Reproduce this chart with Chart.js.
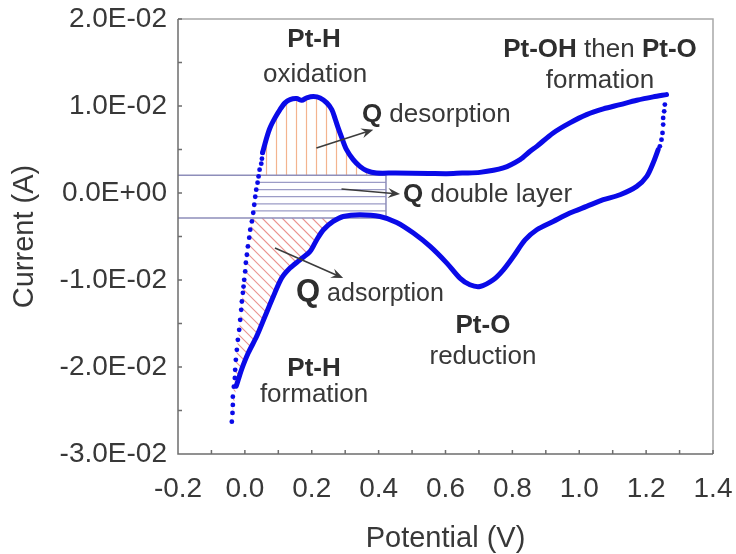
<!DOCTYPE html>
<html>
<head>
<meta charset="utf-8">
<title>Pt cyclic voltammogram</title>
<script src="https://cdn.jsdelivr.net/npm/chart.js@4.4.1/dist/chart.umd.min.js"></script>
<style>
  html, body { margin: 0; padding: 0; background: #fff; }
  #cv { display: block; }
</style>
</head>
<body>
<canvas id="cv" width="736" height="554"></canvas>
<script>
// Potential (V) / current (A) readings of one CV cycle on Pt.
// Anodic sweep start: the fast, sparsely sampled rise from the H2 region
const anodicStartV = [-0.039, -0.037, -0.036, -0.036, -0.033, -0.030, -0.029, -0.027, -0.024, -0.021,
  -0.017, -0.014, -0.011, -0.009, -0.006, -0.004, -0.002, 0.001, 0.003, 0.006,
  0.009, 0.013, 0.016, 0.021, 0.025, 0.028, 0.031, 0.034, 0.038, 0.041,
  0.044, 0.049, 0.051, 0.053];
const anodicStartI = [-0.02628, -0.02528, -0.02436, -0.02341, -0.02226, -0.02125, -0.02033, -0.01918, -0.01803, -0.01688,
  -0.01573, -0.01458, -0.01343, -0.01247, -0.01147, -0.01075, -0.00998, -0.00902, -0.00802, -0.0071,
  -0.00614, -0.00514, -0.00422, -0.00327, -0.00227, -0.00135, -0.00043, 0.00038, 0.00119, 0.00191,
  0.00268, 0.00337, 0.00395, 0.00464];

// Anodic sweep: H desorption peak, double layer, Pt-OH / Pt-O growth
const anodicV = [0.053, 0.065, 0.075, 0.090, 0.105, 0.120, 0.135, 0.155, 0.170, 0.185,
  0.205, 0.225, 0.245, 0.260, 0.269, 0.279, 0.290, 0.304, 0.324, 0.344,
  0.364, 0.394, 0.45, 0.55, 0.604, 0.65, 0.703, 0.773, 0.823, 0.853,
  0.873, 0.922, 0.972, 1.022, 1.072, 1.122, 1.172, 1.221, 1.261];
const anodicI = [0.00464, 0.00633, 0.00748, 0.00863, 0.00959, 0.01036, 0.01074, 0.01085, 0.01066, 0.01093,
  0.01108, 0.01093, 0.01036, 0.00959, 0.00863, 0.00748, 0.00633, 0.00498, 0.00383, 0.00306,
  0.00257, 0.0023, 0.0023, 0.00225, 0.00222, 0.0023, 0.00237, 0.00288, 0.00383, 0.00479,
  0.00536, 0.0069, 0.00806, 0.00901, 0.00967, 0.01016, 0.01066, 0.01105, 0.01131];

// Sweep reversal at the upper vertex (sparse points)
const vertexV = [1.256, 1.254, 1.251, 1.251, 1.249, 1.246, 1.241];
const vertexI = [0.01016, 0.00939, 0.00863, 0.00786, 0.0069, 0.00613, 0.00536];

// Cathodic sweep: Pt-O reduction, double layer, H adsorption
const cathodicV = [1.236, 1.221, 1.202, 1.172, 1.122, 1.072, 1.022, 0.972, 0.922, 0.873,
  0.838, 0.803, 0.773, 0.743, 0.703, 0.673, 0.643, 0.604, 0.554, 0.504,
  0.454, 0.404, 0.344, 0.294, 0.264, 0.235, 0.215, 0.195, 0.165, 0.135,
  0.110, 0.085, 0.060, 0.035, 0.010, -0.010, -0.020, -0.026];
const cathodicI = [0.00498, 0.00345, 0.00191, 0.00076, -0.0002, -0.00077, -0.00154, -0.0023, -0.00327, -0.00422,
  -0.0054, -0.0073, -0.00883, -0.00998, -0.01075, -0.01055, -0.00978, -0.00806, -0.00614, -0.0046,
  -0.00338, -0.0027, -0.0025, -0.0027, -0.00327, -0.00422, -0.00537, -0.00672, -0.00768, -0.00863,
  -0.00978, -0.0119, -0.0142, -0.0165, -0.0184, -0.0203, -0.0215, -0.0222];

// Double layer band used to split the hydrogen charge
const dlTop = 0.00203;
const dlBottom = -0.00288;
const dlRight = 0.422;

// Axis ranges
const xMin = -0.2, xMax = 1.4, xStep = 0.1;
const yMin = -0.03, yMax = 0.02, yStep = 0.005;

const FONT = '"Liberation Sans", Arial, Helvetica, sans-serif';
const TEXT = '#383838';
const BLUE = '#0a0ae8';

const pts = (xs, ys) => xs.map((v, i) => ({ x: v, y: ys[i] }));

// Labels placed in data units: [parts, V, I, align]; parts are [text, bold, size]
const notes = [
  [[['Pt-H', true, 26]], 0.207, 0.0168, 'center'],
  [[['oxidation', false, 26]], 0.21, 0.0128, 'center'],
  [[['Pt-OH', true, 26], [' then ', false, 26], ['Pt-O', true, 26]], 1.062, 0.01568, 'center'],
  [[['formation', false, 26]], 1.062, 0.01212, 'center'],
  [[['Q', true, 26], [' desorption', false, 26]], 0.350, 0.00819, 'left'],
  [[['Q', true, 26], [' double layer', false, 26]], 0.473, -0.001, 'left'],
  [[['Q', true, 31], [' adsorption', false, 25]], 0.153, -0.01247, 'left'],
  [[['Pt-H', true, 26]], 0.207, -0.02107, 'center'],
  [[['formation', false, 26]], 0.207, -0.02398, 'center'],
  [[['Pt-O', true, 26]], 0.712, -0.01608, 'center'],
  [[['reduction', false, 26]], 0.712, -0.01964, 'center']
];

// Arrows from a hatched area to its charge label: [V1, I1, V2, I2]
const arrows = [
  [0.214, 0.00518, 0.384, 0.00728],
  [0.289, 0.00046, 0.464, -0.00012],
  [0.090, -0.00633, 0.294, -0.00978]
];

function sci(v) {
  const [m, e] = Number(v).toExponential(1).split('e');
  const n = Math.abs(parseInt(e, 10));
  return m + 'E' + (e[0] === '-' ? '-' : '+') + String(n).padStart(2, '0');
}

function fixed1(v) {
  return (Math.round(v * 10) / 10 + 0).toFixed(1);
}

function drawRich(ctx, parts, x, y, align) {
  const widths = parts.map(([t, b, s]) => {
    ctx.font = (b ? 'bold ' : '') + s + 'px ' + FONT;
    return ctx.measureText(t).width;
  });
  const total = widths.reduce((a, w) => a + w, 0);
  let cx = align === 'center' ? x - total / 2 : x;
  ctx.textAlign = 'left';
  ctx.textBaseline = 'alphabetic';
  parts.forEach(([t, b, s], i) => {
    ctx.font = (b ? 'bold ' : '') + s + 'px ' + FONT;
    ctx.fillStyle = b ? '#2e2e2e' : TEXT;
    ctx.fillText(t, cx, y);
    cx += widths[i];
  });
}

function drawArrow(ctx, x1, y1, x2, y2) {
  const a = Math.atan2(y2 - y1, x2 - x1);
  const c = Math.cos(a), s = Math.sin(a);
  const L = 12, W = 5;
  ctx.beginPath();
  ctx.moveTo(x1, y1);
  ctx.lineTo(x2 - 7 * c, y2 - 7 * s);
  ctx.stroke();
  ctx.beginPath();
  ctx.moveTo(x2, y2);
  ctx.lineTo(x2 - L * c + W * s, y2 - L * s - W * c);
  ctx.lineTo(x2 - 0.65 * L * c, y2 - 0.65 * L * s);
  ctx.lineTo(x2 - L * c - W * s, y2 - L * s + W * c);
  ctx.closePath();
  ctx.fill();
}

// Hatching of the three charge areas, clipped to the inside of the CV loop
const hatch = {
  id: 'hatch',
  beforeDatasetsDraw(chart) {
    const { ctx, chartArea: a, scales: { x, y } } = chart;
    const loop = [
      ...pts(anodicStartV, anodicStartI), ...pts(anodicV, anodicI),
      ...pts(vertexV, vertexI), ...pts(cathodicV, cathodicI)
    ].map(p => ({ x: x.getPixelForValue(p.x), y: y.getPixelForValue(p.y) }));
    const xr = x.getPixelForValue(dlRight);
    const yt = y.getPixelForValue(dlTop);
    const yb = y.getPixelForValue(dlBottom);

    const clipped = (rx, ry, rw, rh, color, draw) => {
      ctx.save();
      ctx.beginPath();
      loop.forEach((p, i) => (i ? ctx.lineTo(p.x, p.y) : ctx.moveTo(p.x, p.y)));
      ctx.closePath();
      ctx.clip();
      ctx.beginPath();
      ctx.rect(rx, ry, rw, rh);
      ctx.clip();
      ctx.strokeStyle = color;
      ctx.lineWidth = 1.2;
      ctx.beginPath();
      draw();
      ctx.stroke();
      ctx.restore();
    };

    // H desorption: vertical lines
    clipped(a.left, a.top, xr - a.left, yt - a.top, '#f3b48f', () => {
      for (let px = a.left + 8.5; px < xr; px += 10) {
        ctx.moveTo(px, a.top);
        ctx.lineTo(px, yt);
      }
    });
    // double layer: horizontal lines
    clipped(a.left, yt, xr - a.left, yb - yt, '#9c9cc6', () => {
      for (let k = 1; k <= 5; k++) {
        const py = yt + (yb - yt) * k / 6;
        ctx.moveTo(a.left, py);
        ctx.lineTo(xr, py);
      }
    });
    // H adsorption: diagonal lines
    clipped(a.left, yb, xr - a.left, a.bottom - yb, '#ea9490', () => {
      const h = a.bottom - yb;
      for (let px = a.left - h; px < xr; px += 10) {
        ctx.moveTo(px, yb);
        ctx.lineTo(px + h, yb + h);
      }
    });
  }
};

// Plot frame with short inward tick marks
const frame = {
  id: 'frame',
  afterDatasetsDraw(chart) {
    const { ctx, chartArea: a, scales: { x, y } } = chart;
    ctx.save();
    ctx.lineWidth = 1.5;
    ctx.strokeStyle = '#a8a8a8';
    ctx.beginPath();
    ctx.moveTo(a.left, a.top);
    ctx.lineTo(a.right, a.top);
    ctx.lineTo(a.right, a.bottom);
    ctx.stroke();
    ctx.strokeStyle = '#6e6e6e';
    ctx.beginPath();
    ctx.moveTo(a.left, a.top);
    ctx.lineTo(a.left, a.bottom);
    ctx.lineTo(a.right, a.bottom);
    x.ticks.forEach(t => {
      const px = x.getPixelForValue(t.value);
      ctx.moveTo(px, a.bottom);
      ctx.lineTo(px, a.bottom - 4);
    });
    y.ticks.forEach(t => {
      const py = y.getPixelForValue(t.value);
      ctx.moveTo(a.left, py);
      ctx.lineTo(a.left + 4, py);
    });
    ctx.stroke();
    ctx.restore();
  }
};

// Region labels and arrows
const labels = {
  id: 'labels',
  afterDatasetsDraw(chart) {
    const { ctx, scales: { x, y } } = chart;
    ctx.save();
    ctx.strokeStyle = '#3c3c3c';
    ctx.fillStyle = '#3c3c3c';
    ctx.lineWidth = 1.6;
    arrows.forEach(([v1, i1, v2, i2]) => {
      drawArrow(ctx, x.getPixelForValue(v1), y.getPixelForValue(i1),
        x.getPixelForValue(v2), y.getPixelForValue(i2));
    });
    notes.forEach(([parts, v, i, align]) => {
      drawRich(ctx, parts, x.getPixelForValue(v), y.getPixelForValue(i), align);
    });
    ctx.restore();
  }
};

Chart.defaults.font.family = FONT;
Chart.defaults.color = TEXT;

new Chart(document.getElementById('cv'), {
  type: 'scatter',
  data: {
    datasets: [
      {
        data: pts(anodicStartV, anodicStartI),
        showLine: false, pointRadius: 2.4, pointBorderWidth: 0,
        pointBackgroundColor: BLUE
      },
      {
        data: pts(anodicV, anodicI),
        showLine: true, borderColor: BLUE, borderWidth: 5, tension: 0.3,
        pointRadius: 0, borderCapStyle: 'round', borderJoinStyle: 'round'
      },
      {
        data: pts(vertexV, vertexI),
        showLine: false, pointRadius: 2.4, pointBorderWidth: 0,
        pointBackgroundColor: BLUE
      },
      {
        data: pts(cathodicV, cathodicI),
        showLine: true, borderColor: BLUE, borderWidth: 5, tension: 0.3,
        pointRadius: 0, borderCapStyle: 'round', borderJoinStyle: 'round'
      },
      {
        // double layer box
        data: [
          { x: xMin, y: dlTop }, { x: dlRight, y: dlTop },
          { x: dlRight, y: dlBottom }, { x: xMin, y: dlBottom }
        ],
        showLine: true, borderColor: '#8e8eba', borderWidth: 1.5,
        pointRadius: 0, tension: 0
      }
    ]
  },
  options: {
    responsive: false,
    animation: false,
    events: [],
    layout: { padding: { top: 19, right: 23, bottom: 0, left: 0 } },
    plugins: { legend: { display: false }, tooltip: { enabled: false } },
    scales: {
      x: {
        type: 'linear', min: xMin, max: xMax,
        afterFit: s => { s.height = 100; s.paddingLeft = 0; s.paddingRight = 0; },
        border: { display: false },
        grid: { display: true, drawOnChartArea: false, drawTicks: false },
        ticks: {
          stepSize: xStep, autoSkip: false, maxRotation: 0, padding: 18,
          font: { size: 28 }, color: TEXT,
          callback: (v, i) => (i % 2 ? '' : fixed1(v))
        },
        title: {
          display: true, text: 'Potential (V)', color: TEXT,
          font: { size: 29 }, padding: { top: 0, bottom: -2 }
        }
      },
      y: {
        type: 'linear', min: yMin, max: yMax,
        afterFit: s => { s.width = 178; s.paddingTop = 0; s.paddingBottom = 0; },
        border: { display: false },
        grid: { display: true, drawOnChartArea: false, drawTicks: false },
        ticks: {
          stepSize: yStep, autoSkip: false, padding: 11,
          font: { size: 28 }, color: TEXT,
          callback: (v, i) => (i % 2 ? '' : sci(v))
        },
        title: {
          display: true, text: 'Current (A)', color: TEXT,
          font: { size: 29 }, padding: { top: 8, bottom: 0 }
        }
      }
    }
  },
  plugins: [hatch, frame, labels]
});
</script>
</body>
</html>
